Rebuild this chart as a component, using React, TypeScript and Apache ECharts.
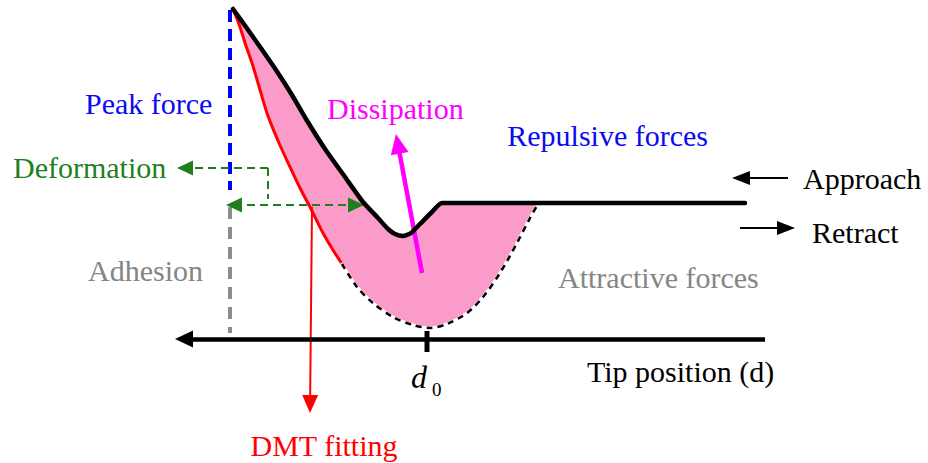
import React, { useEffect, useRef } from "react";
import * as echarts from "echarts";

// Curves (x = tip position, y = drawing units, y grows downward)
const approachCurve: number[][] = [
  [233, 9], [246, 27], [258, 44], [276, 70], [292, 95], [306, 119], [325, 149],
  [345, 177], [363, 202], [378, 218], [388, 229], [395, 234], [403, 236],
  [411, 233], [420, 224], [431, 213], [442, 203], [538, 203], [745, 203],
];
const dmtFitCurve: number[][] = [
  [233, 9], [240, 27], [245, 43], [252, 63], [258, 83], [268, 116], [279, 143],
  [290, 167], [300, 188], [310, 207], [323, 233], [333, 250], [342, 264],
];
const retractTail: number[][] = [
  [342, 264], [357, 287], [373, 303], [393, 317], [413, 325], [430, 328],
  [447, 324], [467, 313], [483, 297], [500, 273], [517, 243], [530, 218], [538, 204],
];
const peakForceLine: number[][] = [[230, 10], [230, 190]];
const adhesionLine: number[][] = [[230, 207], [230, 333]];
const deformationStep: number[][] = [[268, 168], [268, 199]];
const d0Tick: number[][] = [[427, 331], [427, 352]];

// Arrows: [from, to(tip)]
const deformTopArrow = [[268, 168], [177, 168]];
const deformBottomArrow = [[226, 205], [364, 205]];
const dmtArrow = [[312, 207], [310, 413]];
const dissipationArrow = [[422, 273], [396, 134]];
const axisArrow = [[765, 339], [175, 339]];
const approachArrow = [[788, 178], [732, 178]];
const retractArrow = [[740, 228], [795, 228]];

// Text labels and their anchor points
const labelTexts = [
  "Peak force", "Deformation", "Dissipation", "Repulsive forces", "Approach", "Retract",
  "Attractive forces", "Adhesion", "Tip position (d)", "DMT fitting", "d", "0",
];
const labelAnchors: number[][] = [
  [85, 103], [13, 167], [327, 108], [708, 135], [803, 178], [812, 232],
  [558, 277], [88, 270], [587, 371], [324, 445], [411, 377], [432, 389],
];

const GREEN = "#1F7F1F";
const BLUE = "#0A0AF5";
const GRAY = "#858585";
const labelColors = [BLUE, GREEN, "#FF00FF", BLUE, "#000", "#000", GRAY, GRAY, "#000", "#FF0000", "#000", "#000"];
const labelAligns = ["left", "left", "left", "right", "left", "left", "left", "left", "left", "center", "left", "left"];
const labelSizes = [30, 30, 30, 30, 30, 30, 30, 30, 30, 30, 32, 19];

const FONT = "Liberation Serif";

function shorten(from: number[], to: number[], len: number): number[] {
  const dx = to[0] - from[0];
  const dy = to[1] - from[1];
  const d = Math.hypot(dx, dy);
  return [to[0] - (dx / d) * len, to[1] - (dy / d) * len];
}

function arrowItem(
  seg: number[][],
  color: string,
  width: number,
  head: [number, number],
  both = false,
  dashed: number[] | null = null
) {
  const [from, to] = seg;
  const end = shorten(from, to, head[1] / 2);
  const start = both ? shorten(to, from, head[1] / 2) : from;
  const lineStyle = { color, width, type: dashed || "solid", cap: "butt" };
  return [
    { coord: start, symbol: both ? "triangle" : "none", symbolSize: head, lineStyle },
    { coord: end, symbol: "triangle", symbolSize: head, lineStyle },
  ];
}

export default function App() {
  const ref = useRef<HTMLDivElement>(null);
  useEffect(() => {
    if (!ref.current) return;
    const chart = echarts.init(ref.current, null, { renderer: "svg" });

    const fillPoly = [
      ...approachCurve.filter((p) => p[0] <= 538),
      ...retractTail.slice().reverse(),
      ...dmtFitCurve.slice().reverse(),
    ];

    const line = (data: number[][], lineStyle: any, z: number, smooth: number | boolean = false) => ({
      type: "line",
      data,
      symbol: "none",
      showSymbol: false,
      silent: true,
      smooth,
      z,
      lineStyle: { cap: "round", join: "round", ...lineStyle },
    });

    chart.setOption({
      animation: false,
      backgroundColor: "#ffffff",
      textStyle: { fontFamily: FONT },
      grid: { left: 0, right: 0, top: 0, bottom: 0, containLabel: false },
      xAxis: { type: "value", min: 0, max: 928, show: false },
      yAxis: { type: "value", min: 0, max: 463, inverse: true, show: false },
      series: [
        {
          type: "custom",
          silent: true,
          z: 1,
          data: [0],
          renderItem: (_p: any, api: any) => ({
            type: "polygon",
            shape: { points: fillPoly.map((p) => api.coord(p)) },
            style: { fill: "#FA9BCA", stroke: "none" },
          }),
        },
        line(dmtFitCurve, { color: "#FF0000", width: 3 }, 3, 0.3),
        line(retractTail, { color: "#ffffff", width: 3 }, 3, 0.3),
        line(retractTail, { color: "#000000", width: 2.5, type: [6, 5], cap: "butt" }, 4, 0.3),
        line(approachCurve, { color: "#000000", width: 4.5 }, 5, 0.2),
        line(peakForceLine, { color: "#0000FF", width: 4, type: [12, 7], cap: "butt" }, 3),
        line(adhesionLine, { color: "#8C8C8C", width: 4, type: [12, 8], cap: "butt" }, 3),
        line(deformationStep, { color: GREEN, width: 2, type: [8, 5], cap: "butt" }, 3),
        line(d0Tick, { color: "#000000", width: 5, cap: "butt" }, 3),
        {
          type: "line",
          data: [[0, 0]],
          symbol: "none",
          showSymbol: false,
          lineStyle: { opacity: 0 },
          z: 6,
          markLine: {
            silent: true,
            animation: false,
            label: { show: false },
            emphasis: { disabled: true },
            symbol: ["none", "triangle"],
            data: [
              arrowItem(deformTopArrow, GREEN, 2, [15, 16], false, [8, 5]),
              arrowItem(deformBottomArrow, GREEN, 2, [15, 16], true, [8, 5]),
              arrowItem(dmtArrow, "#FF0000", 2, [16, 18]),
              arrowItem(dissipationArrow, "#FF00FF", 4.5, [18, 20]),
              arrowItem(axisArrow, "#000000", 4.5, [17, 18]),
              arrowItem(approachArrow, "#000000", 2, [14, 18]),
              arrowItem(retractArrow, "#000000", 2, [14, 18]),
            ],
          },
        },
        {
          type: "scatter",
          silent: true,
          z: 7,
          symbolSize: 1,
          itemStyle: { color: "rgba(0,0,0,0)", opacity: 1 },
          data: labelTexts.map((t, i) => ({
            value: labelAnchors[i],
            label: {
              show: true,
              position: "inside",
              formatter: t,
              color: labelColors[i],
              opacity: 1,
              fontFamily: FONT,
              fontSize: labelSizes[i],
              fontStyle: t === "d" ? "italic" : "normal",
              align: labelAligns[i],
              verticalAlign: "middle",
            },
          })),
        },
      ],
    });
    return () => chart.dispose();
  }, []);
  return (
    <div
      ref={ref}
      style={{ position: "fixed", left: 0, top: 0, width: 928, height: 463, background: "#fff" }}
    />
  );
}
